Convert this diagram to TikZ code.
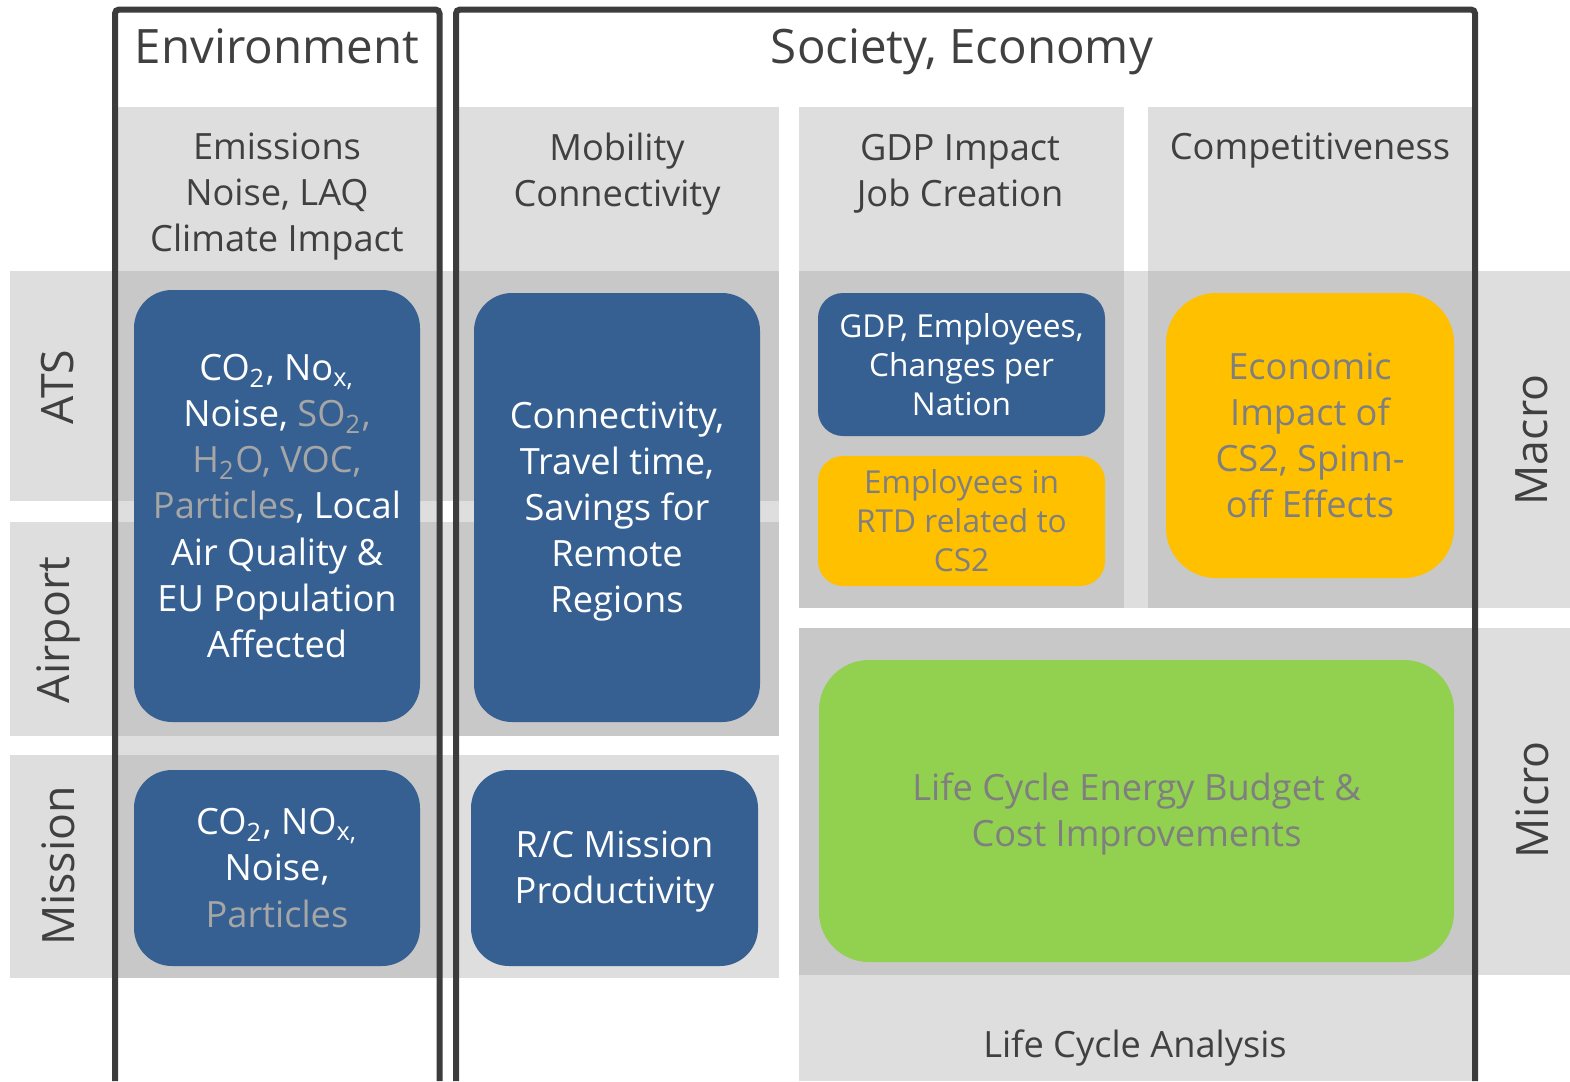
\documentclass[tikz,border=0pt]{standalone}
\usepackage{fontspec}
\usepackage{xcolor}
\usepackage{tikz}
\setmainfont{Open Sans}

\definecolor{cellblue}{HTML}{366092}
\definecolor{cellyellow}{HTML}{FFC000}
\definecolor{cellgreen}{HTML}{92D050}
\definecolor{bandlight}{HTML}{DEDEDE}
\definecolor{banddark}{HTML}{C8C8C8}
\definecolor{framegray}{HTML}{3C3C3C}
\definecolor{textdark}{HTML}{404040}
\definecolor{textgray}{HTML}{7F7F7F}
\definecolor{fadedtext}{HTML}{A6A6A6}

\newcommand{\ttlfont}{\fontsize{13.5pt}{16pt}\selectfont}
\newcommand{\hdfont}{\fontsize{10.3pt}{13.1pt}\selectfont}
\newcommand{\smfont}{\fontsize{9pt}{11.1pt}\selectfont}
\newcommand{\rowfont}{\fontsize{12.7pt}{15pt}\selectfont}
% lower a centred text block without changing its box
\newcommand{\lowered}[3]{\raisebox{-#1}[\height][\depth]{\parbox{#2}{\centering #3}}}

\begin{document}
\begin{tikzpicture}[x=0.1mm, y=-0.1mm,
    lightband/.style={fill=bandlight},
    darkcell/.style={fill=banddark},
    colframe/.style={draw=framegray, line width=0.6mm, rounded corners=0.4mm},
    cardbox/.style={rounded corners=3.8mm, inner sep=0pt, align=center, font=\hdfont},
    bluecard/.style={cardbox, fill=cellblue, text=white},
    yellowcard/.style={cardbox, fill=cellyellow, text=textgray},
    greencard/.style={cardbox, fill=cellgreen, text=textgray, rounded corners=5mm},
    coltitle/.style={text=textdark, font=\ttlfont, anchor=base},
    colhead/.style={text=textdark, font=\hdfont, align=center},
    rowlabel/.style={text=textdark, font=\rowfont, rotate=90}]

    \useasboundingbox (0,0) rectangle (1570,1081);

    % Column backgrounds
    \fill[lightband] (115,107) rectangle (440,978);
    \fill[lightband] (456,107) rectangle (779,736);
    \fill[lightband] (799,107) rectangle (1124,271);
    \fill[lightband] (1148,107) rectangle (1472,271);

    % Row bands (ATS, Airport, Mission)
    \fill[lightband] (10,271) rectangle (779,501);
    \fill[lightband] (10,522) rectangle (779,736);
    \fill[lightband] (10,755) rectangle (779,978);
    \fill[darkcell] (115,271) rectangle (437,501);
    \fill[darkcell] (115,522) rectangle (437,736);
    \fill[darkcell] (115,755) rectangle (437,978);
    \fill[darkcell] (459,271) rectangle (779,501);
    \fill[darkcell] (459,522) rectangle (779,736);

    % Macro / Micro bands
    \fill[lightband] (799,271) rectangle (1570,608);
    \fill[darkcell] (799,271) rectangle (1124,608);
    \fill[darkcell] (1148,271) rectangle (1472,608);
    \fill[lightband] (799,628) rectangle (1570,975);
    \fill[darkcell] (799,628) rectangle (1472,975);
    \fill[lightband] (799,975) rectangle (1472,1081);

    % Frames
    \draw[colframe] (115,1081) -- (115,9.5) -- (439.5,9.5) -- (439.5,1081);
    \draw[colframe] (456,1081) -- (456,9.5) -- (1475,9.5) -- (1475,1081);

    % Titles and column heads
    \node[coltitle] (env) at (277,63) {Environment};
    \node[coltitle] (soc) at (962,63) {Society, Economy};
    \node[colhead] (emis) at (277,197) {Emissions\\Noise, LAQ\\Climate Impact};
    \node[colhead] (mob) at (617,174) {Mobility\\Connectivity};
    \node[colhead] (gdp) at (960,174) {GDP Impact\\Job Creation};
    \node[colhead] (comp) at (1310,151) {Competitiveness};
    \node[colhead] (lca) at (1135,1048) {Life Cycle Analysis};

    % Row labels
    \node[rowlabel] (ats) at (58,387) {ATS};
    \node[rowlabel] (airport) at (58,630) {Airport};
    \node[rowlabel] (mission) at (58,866) {Mission};
    \node[rowlabel] (macro) at (1532,440) {Macro};
    \node[rowlabel] (micro) at (1532,800) {Micro};

    % Environment cards
    \node[bluecard, minimum width=28.6mm, minimum height=43.2mm] (envats) at (277,506)
        {CO\textsubscript{2}, No\textsubscript{x,}\\
         Noise, \textcolor{fadedtext}{SO\textsubscript{2},}\\
         \textcolor{fadedtext}{H\textsubscript{2}O, VOC,}\\
         \textcolor{fadedtext}{Particles}, Local\\
         Air Quality \&\\
         EU Population\\
         Affected};
    \node[bluecard, minimum width=28.6mm, minimum height=19.6mm] (envmis) at (277,868)
        {CO\textsubscript{2}, NO\textsubscript{x,}\\Noise,\\\textcolor{fadedtext}{Particles}};

    % Mobility cards
    \node[bluecard, minimum width=28.6mm, minimum height=42.9mm] (mobats) at (617,507.5)
        {\lowered{0.4mm}{28mm}{Connectivity,\\Travel time,\\Savings for\\Remote\\Regions}};
    \node[bluecard, minimum width=28.7mm, minimum height=19.6mm] (mobmis) at (614.5,868)
        {\lowered{0.4mm}{28mm}{R/C Mission\\Productivity}};

    % Economy cards
    \node[bluecard, font=\smfont, rounded corners=2.5mm, minimum width=28.7mm, minimum height=14.3mm] (gdpbox) at (961.5,364.5)
        {GDP, Employees,\\Changes per\\Nation};
    \node[yellowcard, font=\smfont, rounded corners=2.5mm, minimum width=28.7mm, minimum height=13mm] (empbox) at (961.5,521)
        {Employees in\\RTD related to\\CS2};
    \node[yellowcard, rounded corners=5mm, minimum width=28.8mm, minimum height=28.5mm] (ecobox) at (1310,435.5)
        {Economic\\Impact of\\CS2, Spinn-\\off Effects};
    \node[greencard, minimum width=63.5mm, minimum height=30.2mm] (lcebox) at (1136.5,811)
        {\lowered{0.3mm}{60mm}{Life Cycle Energy Budget \&\\Cost Improvements}};

\end{tikzpicture}
\end{document}
